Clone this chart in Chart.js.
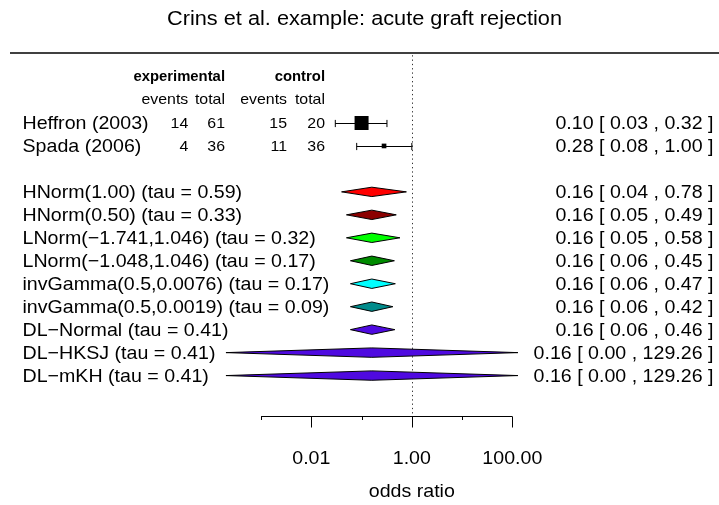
<!DOCTYPE html>
<html>
<head>
<meta charset="utf-8">
<script src="https://cdn.jsdelivr.net/npm/chart.js@4/dist/chart.umd.min.js"></script>
<style>
  html, body { margin: 0; padding: 0; background: #fff; }
  canvas { display: block; }
</style>
</head>
<body>
<canvas id="c" width="719" height="505"></canvas>
<script>
// ---------------- DATA ----------------
const chartTitle = "Crins et al. example: acute graft rejection";
const xAxisTitle = "odds ratio";

const studyLabels = ["Heffron (2003)", "Spada (2006)"];
const expEvents   = [14, 4];
const expTotal    = [61, 36];
const ctrlEvents  = [15, 11];
const ctrlTotal   = [20, 36];
const studyOR     = [0.10, 0.28];
const studyLower  = [0.03, 0.08];
const studyUpper  = [0.32, 1.00];

const summaryLabels = [
  "HNorm(1.00) (tau = 0.59)",
  "HNorm(0.50) (tau = 0.33)",
  "LNorm(\u22121.741,1.046) (tau = 0.32)",
  "LNorm(\u22121.048,1.046) (tau = 0.17)",
  "invGamma(0.5,0.0076) (tau = 0.17)",
  "invGamma(0.5,0.0019) (tau = 0.09)",
  "DL\u2212Normal (tau = 0.41)",
  "DL\u2212HKSJ (tau = 0.41)",
  "DL\u2212mKH (tau = 0.41)"
];
const summaryOR    = [0.16, 0.16, 0.16, 0.16, 0.16, 0.16, 0.16, 0.16, 0.16];
const summaryLower = [0.04, 0.05, 0.05, 0.06, 0.06, 0.06, 0.06, 0.0002, 0.0002];
const summaryUpper = [0.78, 0.49, 0.58, 0.45, 0.47, 0.42, 0.46, 129.26, 129.26];

const tickValues = [0.001, 0.01, 0.1, 1, 10, 100];
const tickLabels = ["", "0.01", "", "1.00", "", "100.00"];

// ---------------- STYLE ----------------
const summaryColors = ["#ff0000", "#8b0000", "#00ff00", "#008b00", "#00ffff", "#008b8b", "#4f0ae0", "#4f0ae0", "#4f0ae0"];
const studySquareRadius = [9.9, 3.3];
const studyRows = [0, 1];
const summaryRows = [3, 4, 5, 6, 7, 8, 9, 10, 11];
const FONT = '"Liberation Sans", Arial, Helvetica, sans-serif';
const SX = 1.06;           // horizontal text stretch
const LBL = 18.5, NUM = 15, HDR = 14, TTL = 20.5;
const DIAMOND_H = 4.7;     // px half-height
const CAP_H = 3.6;

// layout mapping: px = 413.3 + 51.67*log10(x) ; row px = 117.7 + 23.9*k
const PX0 = 413.3, DEC = 51.67, ROW0 = 117.7, ROWH = 23.9;
const W = 719, H = 505;

function drawText(ctx, s, x, y, align, size, bold) {
  ctx.save();
  ctx.font = (bold ? "bold " : "") + size + "px " + FONT;
  const w = ctx.measureText(s).width * SX;
  const x0 = align === "left" ? x : (align === "right" ? x - w : x - w / 2);
  ctx.translate(x0, y);
  ctx.scale(SX, 1);
  ctx.textAlign = "left";
  ctx.textBaseline = "alphabetic";
  ctx.fillStyle = "#000";
  ctx.fillText(s, 0, 0);
  ctx.restore();
}
const fmt = v => v.toFixed(2);

const forestPlugin = {
  id: "forest",
  beforeDraw(chart) {
    const ctx = chart.ctx;
    ctx.save();
    ctx.fillStyle = "#fff";
    ctx.fillRect(0, 0, chart.width, chart.height);
    ctx.restore();
  },
  beforeDatasetsDraw(chart) {
    const ctx = chart.ctx, xs = chart.scales.x, ys = chart.scales.y;
    ctx.save();
    // top rule
    ctx.strokeStyle = "#000";
    ctx.lineWidth = 1.4;
    ctx.beginPath();
    ctx.moveTo(10, ys.getPixelForValue(-3.05));
    ctx.lineTo(W, ys.getPixelForValue(-3.05));
    ctx.stroke();
    // reference dotted line at 1
    const x1 = Math.round(xs.getPixelForValue(1)) + 0.5;
    ctx.lineWidth = 1;
    ctx.strokeStyle = "#333";
    ctx.setLineDash([1.3, 3]);
    ctx.beginPath();
    ctx.moveTo(x1, ys.getPixelForValue(-2.95));
    ctx.lineTo(x1, ys.getPixelForValue(12.7));
    ctx.stroke();
    ctx.setLineDash([]);
    // study whiskers
    ctx.strokeStyle = "#000";
    ctx.lineWidth = 1;
    studyOR.forEach((v, i) => {
      const y = Math.round(ys.getPixelForValue(studyRows[i])) + 0.5;
      const a = xs.getPixelForValue(studyLower[i]);
      const b = xs.getPixelForValue(studyUpper[i]);
      ctx.beginPath();
      ctx.moveTo(a, y); ctx.lineTo(b, y);
      ctx.moveTo(a, y - CAP_H); ctx.lineTo(a, y + CAP_H);
      ctx.moveTo(b, y - CAP_H); ctx.lineTo(b, y + CAP_H);
      ctx.stroke();
    });
    // summary diamonds
    summaryOR.forEach((v, i) => {
      const y = ys.getPixelForValue(summaryRows[i]);
      const a = xs.getPixelForValue(summaryLower[i]);
      const b = xs.getPixelForValue(summaryUpper[i]);
      const m = xs.getPixelForValue(v);
      ctx.beginPath();
      ctx.moveTo(a, y);
      ctx.lineTo(m, y - DIAMOND_H);
      ctx.lineTo(b, y);
      ctx.lineTo(m, y + DIAMOND_H);
      ctx.closePath();
      ctx.fillStyle = summaryColors[i];
      ctx.fill();
      ctx.lineWidth = 1;
      ctx.strokeStyle = "#000";
      ctx.stroke();
    });
    // x axis
    const ya = Math.round(ys.getPixelForValue(12.75)) + 0.5;
    const t0 = xs.getPixelForValue(tickValues[0]);
    const t1 = xs.getPixelForValue(tickValues[tickValues.length - 1]);
    ctx.strokeStyle = "#000";
    ctx.lineWidth = 1;
    ctx.beginPath();
    ctx.moveTo(t0, ya); ctx.lineTo(t1, ya);
    tickValues.forEach((t, i) => {
      const px = Math.round(xs.getPixelForValue(t)) + 0.5;
      ctx.moveTo(px, ya);
      ctx.lineTo(px, ya + (tickLabels[i] ? 11 : 3.5));
    });
    ctx.stroke();
    ctx.restore();
  },
  afterDraw(chart) {
    const ctx = chart.ctx, xs = chart.scales.x, ys = chart.scales.y;
    drawText(ctx, chartTitle, 364.5, 25, "center", TTL, false);
    // column headers
    const yH1 = ys.getPixelForValue(-2) + 3.7;
    const yH2 = ys.getPixelForValue(-1) + 3.8;
    drawText(ctx, "experimental", 225, yH1, "right", HDR, true);
    drawText(ctx, "control", 325, yH1, "right", HDR, true);
    drawText(ctx, "events", 188.3, yH2, "right", NUM, false);
    drawText(ctx, "total", 225, yH2, "right", NUM, false);
    drawText(ctx, "events", 287, yH2, "right", NUM, false);
    drawText(ctx, "total", 325, yH2, "right", NUM, false);
    // study rows
    studyLabels.forEach((s, i) => {
      const y = ys.getPixelForValue(studyRows[i]);
      drawText(ctx, s, 22.5, y + 6, "left", LBL, false);
      drawText(ctx, String(expEvents[i]), 188.3, y + 5.5, "right", NUM, false);
      drawText(ctx, String(expTotal[i]), 225, y + 5.5, "right", NUM, false);
      drawText(ctx, String(ctrlEvents[i]), 287, y + 5.5, "right", NUM, false);
      drawText(ctx, String(ctrlTotal[i]), 325, y + 5.5, "right", NUM, false);
      drawText(ctx, fmt(studyOR[i]) + " [ " + fmt(studyLower[i]) + " , " + fmt(studyUpper[i]) + " ]", 713.5, y + 6, "right", LBL, false);
    });
    // summary rows
    summaryLabels.forEach((s, i) => {
      const y = ys.getPixelForValue(summaryRows[i]);
      drawText(ctx, s, 22.5, y + 6, "left", LBL, false);
      drawText(ctx, fmt(summaryOR[i]) + " [ " + fmt(summaryLower[i]) + " , " + fmt(summaryUpper[i]) + " ]", 713.5, y + 6, "right", LBL, false);
    });
    // tick labels
    tickValues.forEach((t, i) => {
      if (tickLabels[i]) drawText(ctx, tickLabels[i], xs.getPixelForValue(t), 464, "center", LBL, false);
    });
    drawText(ctx, xAxisTitle, xs.getPixelForValue(1), 497, "center", LBL, false);
  }
};

new Chart(document.getElementById("c"), {
  type: "scatter",
  data: {
    datasets: [{
      label: "studies",
      data: studyOR.map((v, i) => ({ x: v, y: studyRows[i] })),
      pointStyle: "rect",
      pointRadius: studySquareRadius,
      pointHoverRadius: studySquareRadius,
      backgroundColor: "#000",
      borderColor: "#000",
      borderWidth: 0
    }]
  },
  options: {
    responsive: false,
    devicePixelRatio: 1,
    animation: false,
    events: [],
    layout: { padding: 0 },
    plugins: { legend: { display: false }, tooltip: { enabled: false }, title: { display: false } },
    scales: {
      x: {
        type: "logarithmic",
        display: false,
        bounds: "data",
        min: Math.pow(10, -PX0 / DEC),
        max: Math.pow(10, (W - PX0) / DEC)
      },
      y: {
        type: "linear",
        display: false,
        reverse: true,
        bounds: "data",
        min: -ROW0 / ROWH,
        max: (H - ROW0) / ROWH
      }
    }
  },
  plugins: [forestPlugin]
});
</script>
</body>
</html>
